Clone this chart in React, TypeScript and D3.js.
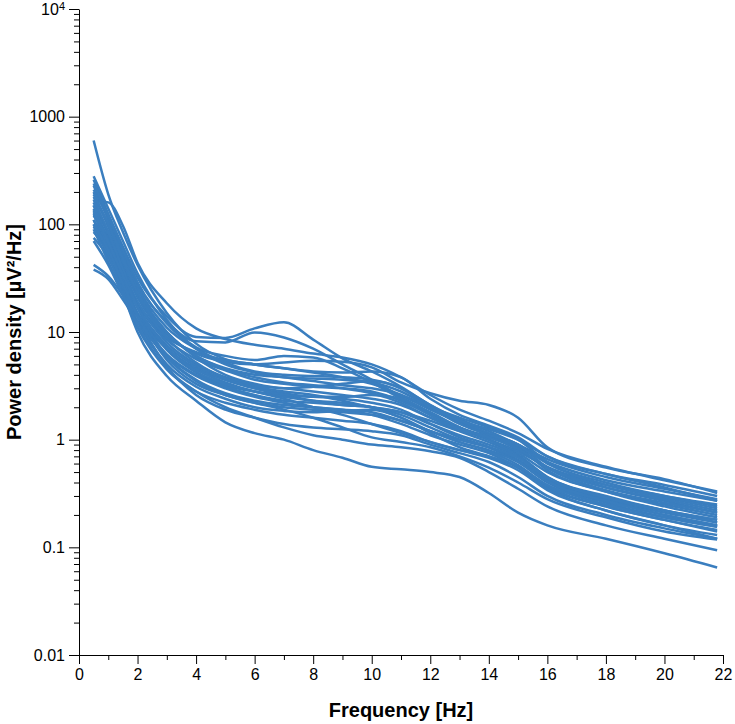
import { useEffect, useRef } from 'react';
import * as d3 from 'd3';

// frequency grid (Hz) shared by every channel
const freqs = [0.5, 1, 1.5, 2, 3, 4, 5, 6, 7, 8, 9, 10, 11, 12, 13, 14, 15, 16, 18, 20, 21.8];

// power density per channel, µV²/Hz
const ch01 = [600, 190, 85, 42, 15, 7.8, 5.6, 5.0, 4.6, 4.2, 3.8, 3.3, 2.6, 1.9, 1.45, 1.1, 0.8, 0.55, 0.36, 0.27, 0.21];
const ch02 = [165, 160, 97, 44, 18.5, 10.8, 8.6, 7.6, 7.0, 6.3, 5.8, 5.0, 3.8, 2.6, 1.9, 1.5, 1.15, 0.82, 0.56, 0.42, 0.33];
const ch03 = [260, 125, 62, 32, 14, 9.0, 8.8, 10.8, 12.3, 8.5, 5.7, 4.3, 3.1, 2.1, 1.55, 1.2, 0.9, 0.66, 0.45, 0.35, 0.28];
const ch04 = [210, 115, 56, 28, 12.5, 8.2, 8.0, 9.9, 8.9, 7.0, 5.0, 3.6, 2.5, 1.75, 1.3, 1.0, 0.78, 0.56, 0.38, 0.3, 0.24];
const ch05 = [150, 85, 42, 21, 9.5, 6.3, 5.3, 5.0, 5.2, 5.4, 5.3, 4.7, 3.4, 2.7, 2.3, 2.1, 1.6, 0.85, 0.55, 0.43, 0.32];
const ch06 = [130, 70, 36, 19, 9, 6.5, 5.5, 5.0, 4.6, 4.3, 4.2, 4.3, 3.8, 2.4, 1.7, 1.35, 1.05, 0.7, 0.48, 0.38, 0.3];
const ch07 = [280, 140, 70, 35, 13, 7.2, 6.0, 5.5, 6.0, 5.8, 4.6, 3.4, 2.4, 1.7, 1.3, 1.05, 0.85, 0.62, 0.42, 0.33, 0.27];
const ch08 = [180, 100, 50, 26, 11, 7.0, 5.2, 4.3, 4.0, 3.9, 3.8, 3.6, 3.0, 2.1, 1.5, 1.15, 0.9, 0.6, 0.4, 0.3, 0.25];
const ch09 = [120, 75, 40, 22, 10, 6.0, 4.6, 4.0, 3.8, 3.5, 3.2, 3.0, 2.6, 2.0, 1.6, 1.3, 1.0, 0.62, 0.38, 0.29, 0.23];
const ch10 = [95, 60, 33, 18, 8.5, 5.6, 4.4, 3.6, 3.3, 3.1, 3.0, 2.8, 2.3, 1.7, 1.25, 1.0, 0.75, 0.5, 0.33, 0.25, 0.2];
const ch11 = [230, 110, 52, 25, 10, 5.8, 4.0, 3.3, 3.0, 3.1, 3.3, 3.5, 3.0, 2.0, 1.4, 1.1, 0.85, 0.52, 0.33, 0.24, 0.19];
const ch12 = [160, 80, 38, 19, 8.0, 5.0, 3.8, 3.2, 3.0, 2.8, 2.6, 2.4, 2.1, 1.6, 1.2, 0.95, 0.72, 0.45, 0.3, 0.22, 0.18];
const ch13 = [110, 62, 32, 17, 7.5, 4.8, 3.6, 3.0, 2.7, 2.5, 2.5, 2.6, 2.4, 1.8, 1.3, 1.0, 0.7, 0.43, 0.28, 0.21, 0.17];
const ch14 = [85, 55, 29, 15, 7.0, 4.6, 3.6, 3.1, 2.8, 2.6, 2.3, 2.0, 1.8, 1.5, 1.2, 1.1, 0.9, 0.55, 0.34, 0.26, 0.21];
const ch15 = [200, 95, 45, 22, 8.8, 5.2, 3.7, 3.0, 2.6, 2.3, 2.1, 2.0, 1.7, 1.3, 1.0, 0.85, 0.65, 0.42, 0.27, 0.2, 0.16];
const ch16 = [140, 72, 35, 17, 6.8, 4.2, 3.2, 2.8, 2.6, 2.5, 2.4, 2.2, 1.9, 1.4, 1.05, 0.85, 0.62, 0.4, 0.26, 0.19, 0.155];
const ch17 = [75, 50, 26, 14, 6.2, 4.0, 3.1, 2.6, 2.3, 2.2, 2.1, 2.0, 1.8, 1.4, 1.1, 0.9, 0.7, 0.45, 0.29, 0.22, 0.18];
const ch18 = [42, 33, 22, 14, 7.0, 4.5, 3.4, 2.8, 2.5, 2.3, 2.2, 2.0, 1.6, 1.2, 0.95, 0.8, 0.62, 0.41, 0.27, 0.2, 0.16];
const ch19 = [38, 31, 20, 12.5, 6.0, 3.9, 3.0, 2.5, 2.2, 2.0, 1.9, 1.8, 1.5, 1.2, 1.0, 0.85, 0.68, 0.44, 0.29, 0.22, 0.17];
const ch20 = [170, 85, 38, 17, 6.0, 3.6, 2.7, 2.3, 2.1, 2.0, 1.9, 1.7, 1.4, 1.1, 0.9, 0.75, 0.55, 0.36, 0.24, 0.18, 0.14];
const ch21 = [125, 62, 30, 15, 5.5, 3.3, 2.6, 2.2, 2.0, 1.9, 1.8, 1.7, 1.5, 1.2, 0.95, 0.78, 0.58, 0.37, 0.24, 0.18, 0.145];
const ch22 = [100, 50, 25, 12.5, 5.0, 3.1, 2.4, 2.0, 1.85, 1.8, 1.85, 1.9, 1.6, 1.15, 0.85, 0.7, 0.55, 0.35, 0.22, 0.16, 0.13];
const ch23 = [90, 45, 22, 11, 4.5, 2.8, 2.2, 1.9, 1.7, 1.6, 1.5, 1.4, 1.2, 0.95, 0.8, 0.68, 0.52, 0.34, 0.22, 0.16, 0.12];
const ch24 = [150, 70, 32, 14, 4.8, 2.6, 1.9, 1.6, 1.4, 1.3, 1.25, 1.2, 1.1, 0.9, 0.75, 0.62, 0.45, 0.3, 0.2, 0.15, 0.12];
const ch25 = [110, 52, 23, 10, 3.9, 2.3, 1.45, 1.15, 1.0, 0.8, 0.68, 0.56, 0.53, 0.5, 0.45, 0.32, 0.21, 0.16, 0.12, 0.088, 0.065];
const ch26 = [70, 42, 22, 11.5, 4.6, 2.8, 2.0, 1.6, 1.3, 1.1, 1.0, 0.9, 0.85, 0.78, 0.68, 0.5, 0.35, 0.24, 0.16, 0.12, 0.094];
const ch27 = [100, 58, 28, 14, 5.8, 3.5, 2.6, 2.2, 1.9, 1.6, 1.3, 1.05, 0.95, 0.85, 0.7, 0.55, 0.4, 0.28, 0.19, 0.14, 0.118];
const ch28 = [135, 68, 34, 17, 7.2, 4.3, 3.3, 2.8, 2.4, 2.0, 1.7, 1.4, 1.15, 0.95, 0.8, 0.7, 0.56, 0.38, 0.25, 0.19, 0.155];
const ch29 = [190, 100, 48, 23, 9.8, 6.0, 4.5, 3.8, 3.4, 3.2, 3.0, 2.7, 2.2, 1.6, 1.25, 1.05, 0.82, 0.55, 0.36, 0.28, 0.22];
const ch30 = [240, 120, 58, 29, 12, 7.0, 5.0, 4.2, 3.8, 3.7, 3.6, 3.4, 2.8, 2.0, 1.5, 1.25, 1.0, 0.7, 0.48, 0.36, 0.27];

const channels = [
  ch01, ch02, ch03, ch04, ch05, ch06, ch07, ch08, ch09, ch10,
  ch11, ch12, ch13, ch14, ch15, ch16, ch17, ch18, ch19, ch20,
  ch21, ch22, ch23, ch24, ch25, ch26, ch27, ch28, ch29, ch30,
];

const xTicks = [0, 2, 4, 6, 8, 10, 12, 14, 16, 18, 20, 22];
const xMinorTicks = [1, 3, 5, 7, 9, 11, 13, 15, 17, 19, 21];
const yTicks = [0.01, 0.1, 1, 10, 100, 1000, 10000];
const yTickLabels = ['0.01', '0.1', '1', '10', '100', '1000', '10^4'];

const W = 735;
const H = 724;
const margin = { top: 9, right: 12, bottom: 69, left: 79 };
const FONT = '"Liberation Sans", Arial, sans-serif';
const LINE_COLOR = '#3a7ebf';

export default function App() {
  const svgRef = useRef<SVGSVGElement>(null);

  useEffect(() => {
    if (!svgRef.current) return;
    const svg = d3.select(svgRef.current);
    svg.selectAll('*').remove();

    const innerW = W - margin.left - margin.right;
    const innerH = H - margin.top - margin.bottom;

    const x = d3.scaleLinear().domain([0, 22]).range([0, innerW]);
    const y = d3.scaleLog().domain([0.01, 10000]).range([innerH, 0]);

    const g = svg.append('g')
      .attr('transform', `translate(${margin.left},${margin.top})`);

    const line = d3.line<number>()
      .x((_, i) => x(freqs[i]))
      .y(d => y(d))
      .curve(d3.curveMonotoneX);

    g.selectAll('.psd')
      .data(channels)
      .enter()
      .append('path')
      .attr('class', 'psd')
      .attr('d', d => line(d))
      .attr('fill', 'none')
      .attr('stroke', LINE_COLOR)
      .attr('stroke-width', 2.5)
      .attr('stroke-linejoin', 'round');

    // x axis, major + minor ticks
    const xg = g.append('g')
      .attr('transform', `translate(0,${innerH})`)
      .call(d3.axisBottom(x).tickValues(xTicks).tickSize(9).tickSizeOuter(0).tickPadding(5).tickFormat(d3.format('d')));
    g.append('g')
      .attr('transform', `translate(0,${innerH})`)
      .call(d3.axisBottom(x).tickValues(xMinorTicks).tickSize(5).tickSizeOuter(0).tickFormat(() => ''))
      .select('.domain').remove();
    xg.selectAll('text').attr('font-size', 16).attr('font-family', FONT).attr('fill', '#000');

    // y axis, decades + minor ticks
    const minor: number[] = [];
    yTicks.slice(0, -1).forEach(t => {
      for (let k = 2; k <= 9; k++) minor.push(t * k);
    });
    const yg = g.append('g')
      .call(d3.axisLeft(y).tickValues(yTicks).tickSize(10).tickSizeOuter(0).tickPadding(4)
        .tickFormat((_, i) => yTickLabels[i]));
    g.append('g')
      .call(d3.axisLeft(y).tickValues(minor).tickSize(5).tickSizeOuter(0).tickFormat(() => ''))
      .select('.domain').remove();
    yg.selectAll('text').attr('font-size', 16).attr('font-family', FONT).attr('fill', '#000');

    // superscript label for 10^4
    yg.selectAll<SVGTextElement, number>('text')
      .filter(d => d === 10000)
      .each(function () {
        const t = d3.select(this);
        t.text(null);
        t.append('tspan').text('10');
        t.append('tspan').attr('dy', -5).attr('font-size', 11).text('4');
      });

    g.selectAll('.domain').attr('stroke', '#000');
    g.selectAll('.tick line').attr('stroke', '#000');

    svg.append('text')
      .attr('x', margin.left + innerW / 2)
      .attr('y', H - 7)
      .attr('text-anchor', 'middle')
      .attr('font-family', FONT)
      .attr('font-weight', 'bold')
      .attr('font-size', 20)
      .text('Frequency [Hz]');

    svg.append('text')
      .attr('transform', `translate(21,${margin.top + innerH / 2}) rotate(-90)`)
      .attr('text-anchor', 'middle')
      .attr('font-family', FONT)
      .attr('font-weight', 'bold')
      .attr('font-size', 20)
      .text('Power density [µV²/Hz]');
  }, []);

  return (
    <svg
      ref={svgRef}
      width={W}
      height={H}
      style={{ position: 'absolute', left: 0, top: 0, background: '#fff' }}
    />
  );
}
